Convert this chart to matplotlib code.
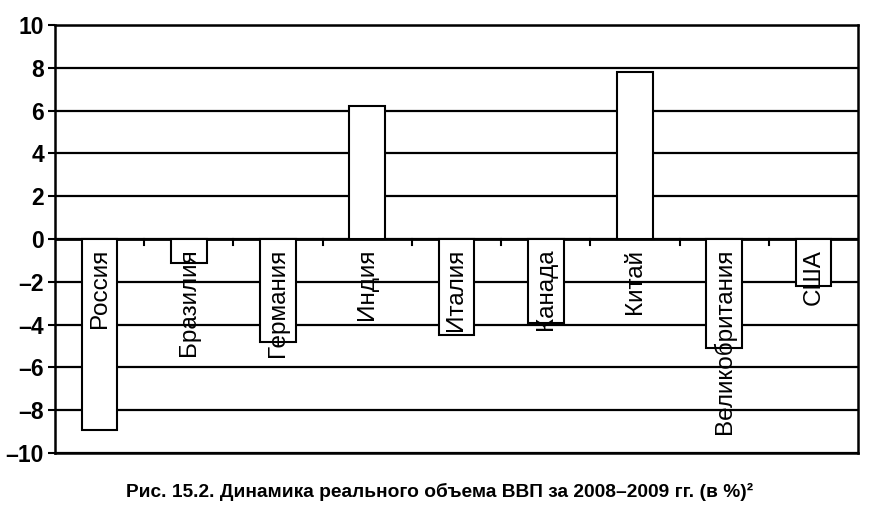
import matplotlib.pyplot as plt
import numpy as np

plt.rcParams["font.family"] = ["Liberation Sans", "DejaVu Sans"]

countries = ["Россия", "Бразилия", "Германия", "Индия", "Италия",
             "Канада", "Китай", "Великобритания", "США"]
gdp_change = [-8.9, -1.1, -4.8, 6.2, -4.5, -3.9, 7.8, -5.1, -2.2]
y_ticks = [10, 8, 6, 4, 2, 0, -2, -4, -6, -8, -10]
caption = "Рис. 15.2. Динамика реального объема ВВП за 2008–2009 гг. (в %)²"

fig = plt.figure(figsize=(8.8, 5.22), dpi=100)
ax = fig.add_axes([0.0625, 0.132, 0.9125, 0.82])

x = np.arange(len(countries))
ax.bar(x, gdp_change, width=0.4, color="white", edgecolor="black",
       linewidth=1.5, zorder=3)

for xi, name in zip(x, countries):
    ax.text(xi, -0.45, name, rotation=90, ha="center", va="top",
            fontsize=17.5, zorder=4)

ax.set_xlim(-0.5, len(countries) - 0.5)
ax.set_ylim(-10, 10)
ax.set_yticks(y_ticks)
ax.set_yticklabels([str(v).replace("-", "–") for v in y_ticks],
                   fontsize=16.5, fontweight="bold")
ax.yaxis.grid(True, color="black", linewidth=1.6, zorder=0)
ax.set_axisbelow(True)
ax.set_xticks([])

# category separators hanging below the zero line
for b in np.arange(0.5, len(countries) - 0.5, 1.0):
    ax.plot([b, b], [0, -0.3], color="black", linewidth=1.5, zorder=2)
ax.axhline(0, color="black", linewidth=2, zorder=2)

for spine in ax.spines.values():
    spine.set_linewidth(1.8)
ax.tick_params(axis="y", length=5, width=1.5, pad=3)

fig.text(0.5, 0.057, caption, ha="center", va="center",
         fontsize=13.8, fontweight="bold")

fig.savefig("out.png", dpi=100)
